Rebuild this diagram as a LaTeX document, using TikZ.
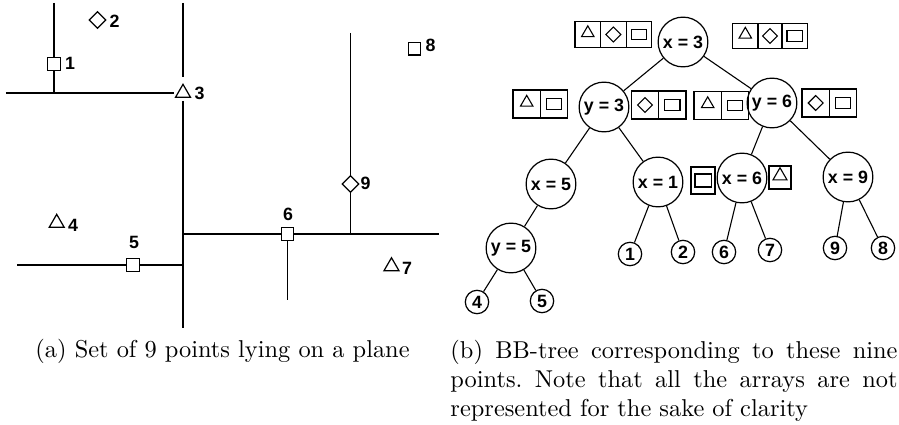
\documentclass[tikz,border=0pt]{standalone}
\usepackage{fontspec}
\newfontfamily\labfont{Liberation Sans}
\usetikzlibrary{shapes.geometric}
% caption text: 10pt, no extra sentence space, no hyphenation
\newcommand\captext{\fontsize{10}{11.8}\selectfont\frenchspacing
  \hyphenpenalty=10000 \exhyphenpenalty=10000 \relax}

\begin{document}
\begin{tikzpicture}[x=0.41pt,y=-0.41pt,
  every node/.style={inner sep=0pt},
  axis/.style={line width=0.6pt},
  edge/.style={line width=0.45pt},
  lab/.style={font=\labfont\bfseries\fontsize{7.3}{8.5}\selectfont},
  sqpt/.style={draw, line width=0.5pt, rectangle, minimum size=5.1pt, fill=white},
  tript/.style={draw, line width=0.5pt, regular polygon, regular polygon sides=3, minimum size=7.1pt, outer sep=1.5pt},
  diapt/.style={draw, line width=0.5pt, diamond, minimum size=7pt},
  split/.style={draw, circle, line width=0.5pt, minimum size=20.4pt, lab},
  leaf/.style={draw, circle, line width=0.5pt, minimum size=9.6pt, lab},
  cella/.style={draw, line width=0.5pt, minimum width=10.5pt, minimum height=10.5pt},
  cellb/.style={draw, line width=0.5pt, minimum width=11.2pt, minimum height=11.5pt},
  stri/.style={draw, line width=0.45pt, regular polygon, regular polygon sides=3, minimum size=5.9pt, yshift=0.6pt},
  sdia/.style={draw, line width=0.45pt, diamond, minimum size=6.3pt},
  srect/.style={draw, line width=0.45pt, minimum width=6.3pt, minimum height=4.4pt},
  caption/.style={font=\captext},
]
\fill[white] (0,0) rectangle (899,425);
\useasboundingbox (0,0) rectangle (899,425);

% ---------- (a) the plane and its partition ----------
\node[sqpt]  (p1) at (54,64) {};
\node[diapt] (p2) at (97.5,20) {};
\node[tript] (p3) at (183,93) {};
\node[tript] (p4) at (56.7,223) {};
\node[sqpt]  (p5) at (133,265) {};
\node[sqpt]  (p6) at (287.5,234) {};
\node[tript] (p7) at (391.5,266.4) {};
\node[sqpt]  (p8) at (414.5,48.7) {};
\node[diapt] (p9) at (350.5,184) {};

\node[lab] (l1) at (70,63) {1};
\node[lab] (l2) at (114.5,21) {2};
\node[lab] (l3) at (199.5,93.5) {3};
\node[lab] (l4) at (73,225) {4};
\node[lab] (l5) at (134,242.7) {5};
\node[lab] (l6) at (288,214) {6};
\node[lab] (l7) at (407,268) {7};
\node[lab] (l8) at (430.5,45.8) {8};
\node[lab] (l9) at (365.5,183.5) {9};

\coordinate (v1t) at (54,3);
\coordinate (v1b) at (54,93);
\coordinate (h1l) at (6,93);
\coordinate (v3t) at (183,3);
\coordinate (v3b) at (183,328);
\coordinate (h3l) at (183,234);
\coordinate (h3r) at (439,234);
\coordinate (v6b) at (287.5,300);
\coordinate (v9t) at (350.5,33);
\coordinate (v9b) at (350.5,234);
\coordinate (h5l) at (17,265);
\coordinate (h5r) at (183,265);

\draw[axis] (v1t) -- (p1) -- (v1b);
\draw[axis] (h1l) -- (p3);
\draw[axis] (v3t) -- (p3) -- (v3b);
\draw[axis] (h3l) -- (p6) -- (h3r);
\draw[axis] (p6) -- (v6b);
\draw[axis] (v9t) -- (p9) -- (v9b);
\draw[axis] (h5l) -- (p5) -- (h5r);

% ---------- (b) the BB-tree ----------
\node[split] (r0) at (683,42)  {x = 3};
\node[split] (na) at (604,107) {y = 3};
\node[split] (nb) at (772,103) {y = 6};
\node[split] (nc) at (551,184) {x = 5};
\node[split] (nd) at (658,182) {x = 1};
\node[split] (ne) at (742,178) {x = 6};
\node[split] (nf) at (848,177) {x = 9};
\node[split] (ng) at (511,248) {y = 5};

\node[leaf] (t4) at (477,302) {4};
\node[leaf] (t5) at (542,301) {5};
\node[leaf] (t1) at (630,254) {1};
\node[leaf] (t2) at (683,252) {2};
\node[leaf] (t6) at (724,252) {6};
\node[leaf] (t7) at (770,250) {7};
\node[leaf] (t9) at (835,248) {9};
\node[leaf] (t8) at (883,248) {8};

\draw[edge] (r0) -- (na);
\draw[edge] (r0) -- (nb);
\draw[edge] (na) -- (nc);
\draw[edge] (na) -- (nd);
\draw[edge] (nb) -- (ne);
\draw[edge] (nb) -- (nf);
\draw[edge] (nc) -- (ng);
\draw[edge] (ng) -- (t4);
\draw[edge] (ng) -- (t5);
\draw[edge] (nd) -- (t1);
\draw[edge] (nd) -- (t2);
\draw[edge] (ne) -- (t6);
\draw[edge] (ne) -- (t7);
\draw[edge] (nf) -- (t9);
\draw[edge] (nf) -- (t8);

% arrays beside the root
\node[cella] (a0c1) at (587.8,34.5) {};
\node[cella] (a0c2) at (613.4,34.5) {};
\node[cella] (a0c3) at (639.0,34.5) {};
\node[stri]  (a0s1) at (a0c1) {};
\node[sdia]  (a0s2) at (a0c2) {};
\node[srect] (a0s3) at (a0c3) {};

\node[cella] (a1c1) at (745.3,36) {};
\node[cella] (a1c2) at (770.0,36) {};
\node[cella] (a1c3) at (794.7,36) {};
\node[stri]  (a1s1) at (a1c1) {};
\node[sdia]  (a1s2) at (a1c2) {};
\node[srect] (a1s3) at (a1c3) {};

% arrays beside y = 3
\node[cellb] (a2c1) at (526.7,104) {};
\node[cellb] (a2c2) at (554.0,104) {};
\node[stri]  (a2s1) at (a2c1) {};
\node[srect] (a2s2) at (a2c2) {};

\node[cellb] (a3c1) at (645.0,105) {};
\node[cellb] (a3c2) at (672.3,105) {};
\node[sdia]  (a3s1) at (a3c1) {};
\node[srect] (a3s2) at (a3c2) {};

% arrays beside y = 6
\node[cellb] (a4c1) at (707.7,105.5) {};
\node[cellb] (a4c2) at (735.0,105.5) {};
\node[stri]  (a4s1) at (a4c1) {};
\node[srect] (a4s2) at (a4c2) {};

\node[cellb] (a5c1) at (815.7,103) {};
\node[cellb] (a5c2) at (843.0,103) {};
\node[sdia]  (a5s1) at (a5c1) {};
\node[srect] (a5s2) at (a5c2) {};

% single boxes beside x = 1 and x = 6
\node[draw, line width=0.5pt, minimum width=9.8pt, minimum height=11.1pt] (b1) at (703,180.5) {};
\node[draw, line width=0.45pt, minimum width=6.6pt, minimum height=5.3pt] (b1s) at (b1) {};
\node[draw, line width=0.5pt, minimum width=9pt, minimum height=9.4pt] (b2) at (780,177.5) {};
\node[draw, line width=0.45pt, regular polygon, regular polygon sides=3, minimum size=6.6pt, yshift=0.7pt] (b2s) at (b2) {};

% ---------- captions ----------
\node[caption, anchor=base west] (capa) at (35,358)
  {(a) Set of 9 points lying on a plane};
\node[caption, anchor=base west, text width=183.3pt, align=justify] (capb) at (450,359)
  {(b) BB-tree corresponding to these nine points. Note that all the arrays are not represented for the sake of clarity};
\end{tikzpicture}
\end{document}
